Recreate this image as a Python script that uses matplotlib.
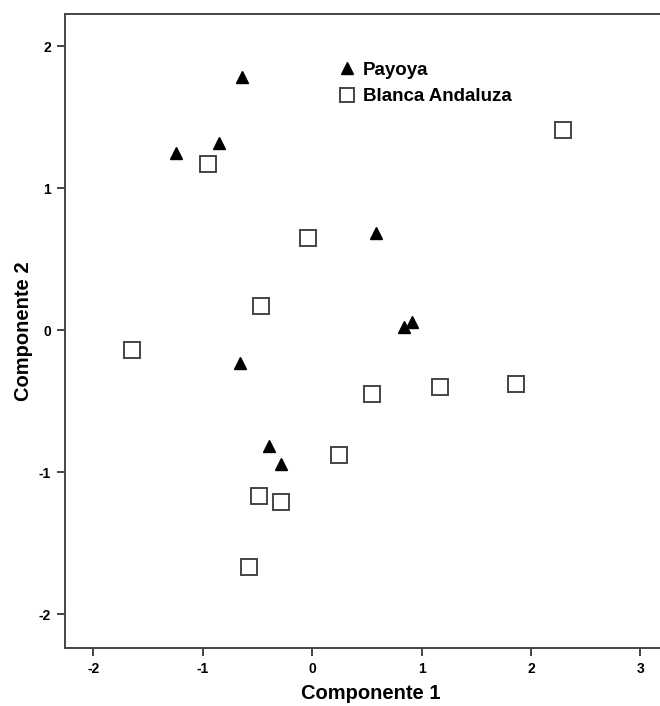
import matplotlib.pyplot as plt

# Payoya (filled triangles)
payoya_x = [-0.64, -1.25, -0.85, 0.58, 0.84, 0.91, -0.66, -0.40, -0.29]
payoya_y = [1.78, 1.25, 1.32, 0.68, 0.02, 0.06, -0.23, -0.82, -0.94]

# Blanca Andaluza (open squares)
blanca_x = [-0.95, -0.04, -0.47, -1.65, 0.55, 1.17, 1.86, 0.24, -0.49, -0.29, -0.58, 2.29]
blanca_y = [1.17, 0.65, 0.17, -0.14, -0.45, -0.40, -0.38, -0.88, -1.17, -1.21, -1.67, 1.41]

x_ticks = [-2, -1, 0, 1, 2, 3]
y_ticks = [-2, -1, 0, 1, 2]


def main() -> None:
  plt.rcParams["font.family"] = ["Liberation Sans", "DejaVu Sans"]
  fig = plt.figure(figsize=(6.6, 7.06), dpi=100)
  ax = fig.add_axes([0.0985, 0.082, 0.925, 0.898])

  ax.plot(payoya_x, payoya_y, linestyle="none", marker="^", markersize=9,
          color="black", label="Payoya")
  ax.plot(blanca_x, blanca_y, linestyle="none", marker="s", markersize=11.5,
          markerfacecolor="white", markeredgecolor="#444444",
          markeredgewidth=1.4, label="Blanca Andaluza")

  ax.set_xlim(-2.26, 3.32)
  ax.set_ylim(-2.24, 2.225)
  ax.set_xticks(x_ticks)
  ax.set_yticks(y_ticks)
  ax.set_xticklabels([str(v) for v in x_ticks], fontsize=10, fontweight="bold")
  ax.set_yticklabels([str(v) for v in y_ticks], fontsize=10, fontweight="bold")
  ax.tick_params(direction="out", length=6, width=1.4, color="#444444", pad=4)

  ax.spines["right"].set_visible(False)
  for s in ("left", "bottom", "top"):
    ax.spines[s].set_color("#444444")
    ax.spines[s].set_linewidth(1.4)

  ax.set_xlabel("Componente 1", fontsize=14.5, fontweight="bold", labelpad=6)
  ax.set_ylabel("Componente 2", fontsize=14.5, fontweight="bold", labelpad=4)

  ax.legend(loc="upper left", bbox_to_anchor=(0.45, 0.925), frameon=False,
            prop={"weight": "bold", "size": 13.5},
            handlelength=0.8, handletextpad=0.45, labelspacing=0.5,
            borderaxespad=0.0, borderpad=0.0, markerscale=0.9)

  fig.savefig("out.png", dpi=100)


if __name__ == "__main__":
  main()
